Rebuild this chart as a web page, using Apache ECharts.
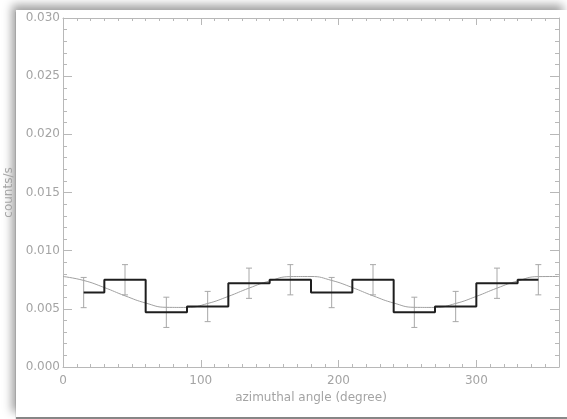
<!DOCTYPE html>
<html>
<head>
<meta charset="utf-8">
<script src="https://cdn.jsdelivr.net/npm/echarts@6/dist/echarts.min.js"></script>
<style>
  html, body { margin: 0; padding: 0; background: #fff; width: 567px; height: 419px; overflow: hidden; }
  #sheet {
    position: absolute; left: 16px; top: 10px; width: 551px; height: 407px;
    background: #fff;
    box-shadow: -4px -5px 9px rgba(0,0,0,0.38), 0 2px 1px rgba(0,0,0,0.45);
  }
  #chart { position: absolute; left: 0; top: 0; width: 567px; height: 419px; }
</style>
</head>
<body>
<div id="sheet"></div>
<div id="chart"></div>
<script>
// Bin centres (degrees) and measured count rates with 1-sigma errors
const angles = [15, 45, 75, 105, 135, 165, 195, 225, 255, 285, 315, 345];
const rates  = [0.0064, 0.0075, 0.0047, 0.0052, 0.0072, 0.0075,
                0.0064, 0.0075, 0.0047, 0.0052, 0.0072, 0.0075];
const errors = [0.0013, 0.0013, 0.0013, 0.0013, 0.0013, 0.0013,
                0.0013, 0.0013, 0.0013, 0.0013, 0.0013, 0.0013];

// Modulation curve sampled along the azimuth
const fitAngles = [0, 15, 30, 45, 60, 75, 90, 105, 120, 135, 150, 165, 180,
                   195, 210, 225, 240, 255, 270, 285, 300, 315, 330, 345, 360];
const fitRates  = [0.00778, 0.00744, 0.00683, 0.00612, 0.00550, 0.00513, 0.00512,
                   0.00546, 0.00607, 0.00678, 0.00740, 0.00777, 0.00778,
                   0.00744, 0.00683, 0.00612, 0.00550, 0.00513, 0.00512,
                   0.00546, 0.00607, 0.00678, 0.00740, 0.00777, 0.00778];

// Axis ranges and tick spacing
const xRange = [0, 360], xMajor = 100, xMinor = 10;
const yRange = [0, 0.030], yMajor = 0.005, yMinor = 0.001;
const xTitle = 'azimuthal angle (degree)';
const yTitle = 'counts/s';

const axisColor = '#b8b8b8';
const textColor = '#a4a4a4';
const font = 'DejaVu Sans';

function xAxisDef(position, interval, tickLen, withLine, withLabels) {
  return {
    type: 'value', position, min: xRange[0], max: xRange[1], interval,
    axisLine: { show: withLine, onZero: false, lineStyle: { color: axisColor, width: 1 } },
    axisTick: { show: true, inside: true, length: tickLen, lineStyle: { color: axisColor } },
    axisLabel: { show: withLabels, margin: 8, color: textColor, fontFamily: font, fontSize: 12,
                 showMaxLabel: false },
    splitLine: { show: false },
    name: withLabels ? xTitle : '', nameLocation: 'middle', nameGap: 24,
    nameTextStyle: { color: textColor, fontFamily: font, fontSize: 12 }
  };
}
function yAxisDef(position, interval, tickLen, withLine, withLabels) {
  return {
    type: 'value', position, min: yRange[0], max: yRange[1], interval,
    axisLine: { show: withLine, onZero: false, lineStyle: { color: axisColor, width: 1 } },
    axisTick: { show: true, inside: true, length: tickLen, lineStyle: { color: axisColor } },
    axisLabel: { show: withLabels, margin: 3, color: textColor, fontFamily: font, fontSize: 12,
                 formatter: v => v.toFixed(3) },
    splitLine: { show: false },
    name: withLabels ? yTitle : '', nameLocation: 'middle', nameGap: 46, nameRotate: 90,
    nameTextStyle: { color: textColor, fontFamily: font, fontSize: 12 }
  };
}

const chart = echarts.init(document.getElementById('chart'), null, { renderer: 'canvas' });
chart.setOption({
  backgroundColor: 'transparent',
  animation: false,
  grid: { left: 63, right: 8, top: 18, bottom: 52, containLabel: false, outerBoundsMode: 'none' },
  xAxis: [
    xAxisDef('bottom', xMajor, 7, true, true),
    xAxisDef('bottom', xMinor, 3, false, false),
    xAxisDef('top', xMajor, 7, true, false),
    xAxisDef('top', xMinor, 3, false, false)
  ],
  yAxis: [
    yAxisDef('left', yMajor, 9, true, true),
    yAxisDef('left', yMinor, 4, false, false),
    yAxisDef('right', yMajor, 9, true, false),
    yAxisDef('right', yMinor, 4, false, false)
  ],
  series: [
    {
      type: 'custom', xAxisIndex: 0, yAxisIndex: 0, z: 2,
      data: angles.map((a, i) => [a, rates[i] - errors[i], rates[i] + errors[i]]),
      renderItem: (params, api) => {
        const lo = api.coord([api.value(0), api.value(1)]);
        const hi = api.coord([api.value(0), api.value(2)]);
        const cap = 3;
        const style = { stroke: '#a8a8a8', lineWidth: 1 };
        return {
          type: 'group',
          children: [
            { type: 'line', shape: { x1: lo[0], y1: lo[1], x2: hi[0], y2: hi[1] }, style },
            { type: 'line', shape: { x1: lo[0] - cap, y1: lo[1], x2: lo[0] + cap, y2: lo[1] }, style },
            { type: 'line', shape: { x1: hi[0] - cap, y1: hi[1], x2: hi[0] + cap, y2: hi[1] }, style }
          ]
        };
      }
    },
    {
      type: 'line', xAxisIndex: 0, yAxisIndex: 0, z: 3,
      data: fitAngles.map((a, i) => [a, fitRates[i]]),
      smooth: true, showSymbol: false, symbol: 'none',
      lineStyle: { color: '#a0a0a0', width: 1 }
    },
    {
      type: 'line', xAxisIndex: 0, yAxisIndex: 0, z: 4,
      data: angles.map((a, i) => [a, rates[i]]),
      step: 'middle', showSymbol: false, symbol: 'none',
      lineStyle: { color: '#1e1e1e', width: 2 }
    }
  ]
});
</script>
</body>
</html>
